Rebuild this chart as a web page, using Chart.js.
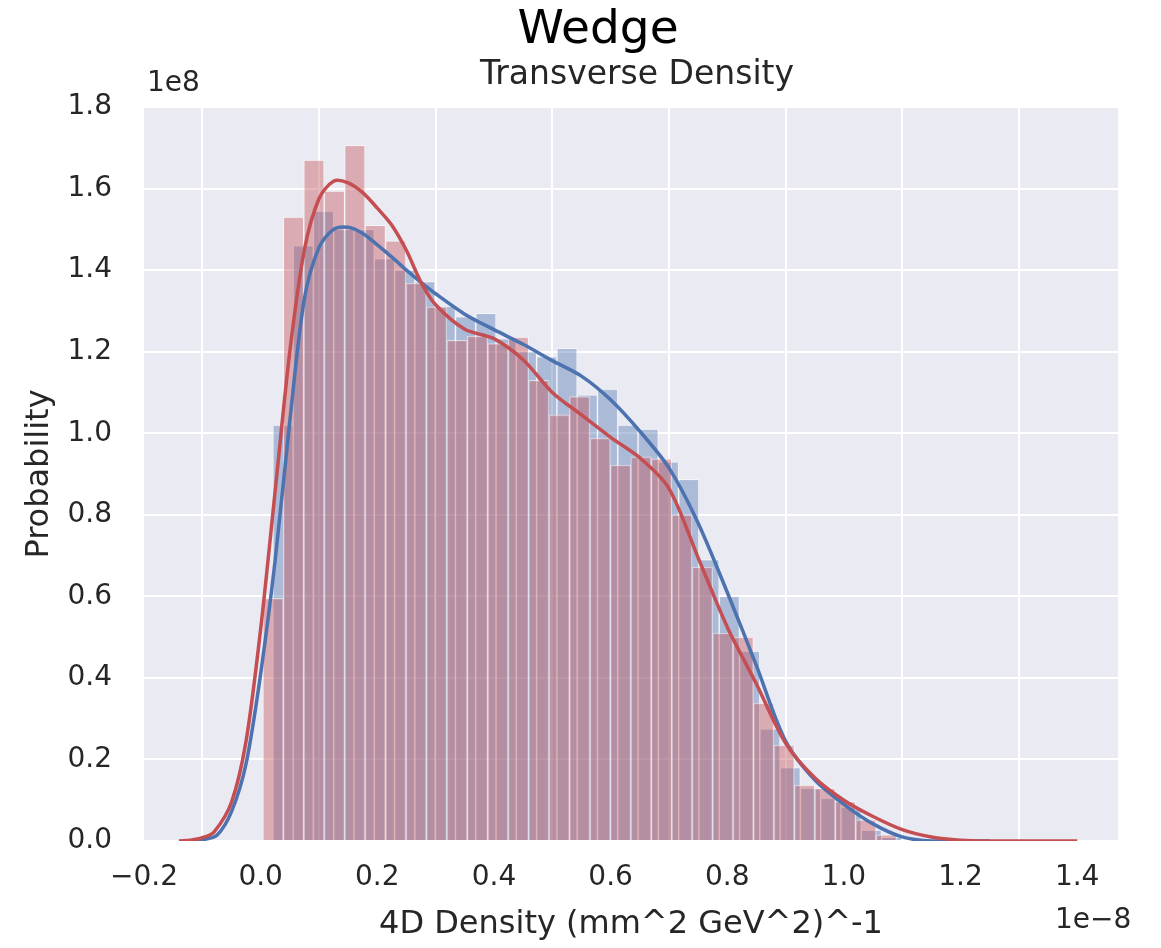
<!DOCTYPE html>
<html>
<head>
<meta charset="utf-8">
<title>Wedge - Transverse Density</title>
<script src="https://cdn.jsdelivr.net/npm/chart.js@4.4.1/dist/chart.umd.min.js"></script>
<style>
  body { margin: 0; background: #fff; }
  #wrap { width: 1161px; height: 948px; position: relative; }
</style>
</head>
<body>
<div id="wrap"><canvas id="densityChart"></canvas></div>
<script>
// histogram bins (x in units of 1e-8, heights in units of 1e8)
const blueBinStart = 0.0209, blueBinWidth = 0.03479;
const blueCounts = [1.02, 1.46, 1.545, 1.50, 1.50, 1.428, 1.40, 1.372, 1.312, 1.286,
  1.294, 1.232, 1.20, 1.188, 1.208, 1.094, 1.108, 1.02, 1.01, 0.93,
  0.887, 0.69, 0.60, 0.466, 0.275, 0.18, 0.13, 0.105, 0.083, 0.027, 0.009];

const redBinStart = 0.0038, redBinWidth = 0.03505;
const redCounts = [0.595, 1.53, 1.67, 1.594, 1.706, 1.51, 1.472, 1.368, 1.31, 1.228,
  1.238, 1.22, 1.236, 1.13, 1.045, 1.09, 0.988, 0.922, 0.942, 0.937,
  0.80, 0.672, 0.51, 0.50, 0.338, 0.235, 0.137, 0.129, 0.097, 0.052, 0.015];

// kde curves
const blueKdeX = [-0.125, -0.10, -0.075, -0.05, -0.025, 0, 0.025, 0.05, 0.075, 0.10, 0.125, 0.15, 0.175,
  0.20, 0.225, 0.25, 0.275, 0.30, 0.35, 0.40, 0.45, 0.50, 0.55, 0.60, 0.65, 0.70, 0.75,
  0.80, 0.85, 0.90, 0.95, 1.00, 1.05, 1.10, 1.15, 1.25];
const blueKdeY = [0, 0.003, 0.014, 0.072, 0.19, 0.41, 0.69, 1.03, 1.33, 1.455, 1.50, 1.505, 1.49,
  1.462, 1.432, 1.40, 1.37, 1.342, 1.292, 1.254, 1.218, 1.178, 1.14, 1.082, 1.005, 0.915, 0.78,
  0.61, 0.43, 0.245, 0.15, 0.09, 0.042, 0.01, 0, 0];

const redKdeX = [-0.14, -0.12, -0.10, -0.08, -0.05, -0.025, 0, 0.025, 0.05, 0.075, 0.10, 0.125, 0.15,
  0.175, 0.20, 0.225, 0.25, 0.275, 0.30, 0.35, 0.40, 0.45, 0.50, 0.55, 0.60, 0.65, 0.70,
  0.75, 0.80, 0.85, 0.90, 0.95, 1.00, 1.05, 1.10, 1.15, 1.20, 1.25, 1.40];
const redKdeY = [0, 0.002, 0.008, 0.022, 0.095, 0.245, 0.52, 0.86, 1.20, 1.45, 1.575, 1.618, 1.614,
  1.59, 1.552, 1.51, 1.448, 1.37, 1.315, 1.255, 1.232, 1.18, 1.10, 1.045, 0.99, 0.94, 0.865,
  0.695, 0.525, 0.385, 0.24, 0.155, 0.10, 0.06, 0.028, 0.01, 0.002, 0, 0];

const xTicksStep = 0.2, yTicksStep = 0.2;

const blue = '#4C72B0', red = '#C44E52';
const textColor = '#262626';

function toBars(start, width, counts) {
  return counts.map((c, i) => ({x: start + width * (i + 0.5), y: c}));
}
function toLine(xs, ys) {
  return xs.map((x, i) => ({x: x, y: ys[i]}));
}
function fmt(v) {
  if (Math.abs(v) < 1e-9) v = 0;
  return v.toFixed(1).replace('-', '\u2212');
}

const extraText = {
  id: 'extraText',
  beforeDraw(chart) {
    const {ctx, chartArea: a} = chart;
    ctx.save();
    ctx.fillStyle = '#EAEAF2';
    ctx.fillRect(a.left, a.top, a.right - a.left, a.bottom - a.top);
    ctx.restore();
  },
  afterDraw(chart) {
    const {ctx, chartArea: a} = chart;
    ctx.save();
    ctx.textBaseline = 'middle';
    ctx.fillStyle = '#000';
    ctx.textAlign = 'center';
    ctx.font = '47px "DejaVu Sans"';
    ctx.fillText('Wedge', 598, 31);
    ctx.fillStyle = textColor;
    ctx.font = '33px "DejaVu Sans"';
    ctx.fillText('Transverse Density', (a.left + a.right) / 2 + 6, 75);
    ctx.font = '28px "DejaVu Sans"';
    ctx.textAlign = 'left';
    ctx.fillText('1e8', a.left + 3, 84);
    ctx.fillText('1e\u22128', 1055, 921);
    ctx.restore();
  }
};

Chart.defaults.font.family = '"DejaVu Sans"';
Chart.defaults.color = textColor;

const ctx = document.getElementById('densityChart');

new Chart(ctx, {
  type: 'bar',
  data: {
    datasets: [
      {
        type: 'line',
        label: 'red kde',
        data: toLine(redKdeX, redKdeY),
        xAxisID: 'x',
        borderColor: red,
        borderWidth: 3.5,
        pointRadius: 0,
        tension: 0.3,
        fill: false,
        order: 0
      },
      {
        type: 'line',
        label: 'blue kde',
        data: toLine(blueKdeX, blueKdeY),
        xAxisID: 'x',
        borderColor: blue,
        borderWidth: 3.5,
        pointRadius: 0,
        tension: 0.3,
        fill: false,
        order: 1
      },
      {
        label: 'red hist',
        data: toBars(redBinStart, redBinWidth, redCounts),
        xAxisID: 'xr',
        backgroundColor: 'rgba(196, 78, 82, 0.4)',
        borderColor: 'rgba(255, 255, 255, 0.5)',
        borderWidth: 1,
        barPercentage: 1,
        categoryPercentage: 1,
        grouped: false,
        order: 2
      },
      {
        label: 'blue hist',
        data: toBars(blueBinStart, blueBinWidth, blueCounts),
        xAxisID: 'xb',
        backgroundColor: 'rgba(76, 114, 176, 0.4)',
        borderColor: 'rgba(255, 255, 255, 0.5)',
        borderWidth: 1,
        barPercentage: 1,
        categoryPercentage: 1,
        grouped: false,
        order: 3
      }
    ]
  },
  options: {
    responsive: true,
    maintainAspectRatio: false,
    animation: false,
    layout: { padding: { top: 107, right: 43, left: 0, bottom: 0 } },
    plugins: {
      legend: { display: false },
      tooltip: { enabled: false }
    },
    scales: {
      x: {
        type: 'linear',
        position: 'bottom',
        min: -0.2,
        max: 1.47,
        offset: false,
        afterFit(scale) { scale.height = 107; },
        grid: { color: '#ffffff', lineWidth: 2, drawTicks: false },
        border: { display: false },
        ticks: {
          stepSize: xTicksStep,
          includeBounds: false,
          padding: 20,
          font: { size: 28 },
          color: textColor,
          callback: v => fmt(v)
        },
        title: {
          display: true,
          text: '4D Density (mm^2 GeV^2)^-1',
          font: { size: 32 },
          color: textColor,
          padding: { top: 0, bottom: 4 }
        }
      },
      xr: { type: 'linear', display: false, min: -0.2, max: 1.47, offset: false },
      xb: { type: 'linear', display: false, min: -0.2, max: 1.47, offset: false },
      y: {
        type: 'linear',
        min: 0,
        max: 1.8,
        afterFit(scale) { scale.width = 144; },
        grid: { color: '#ffffff', lineWidth: 2, drawTicks: false },
        border: { display: false },
        ticks: {
          stepSize: yTicksStep,
          padding: 32,
          font: { size: 28 },
          color: textColor,
          callback: v => fmt(v)
        },
        title: {
          display: true,
          text: 'Probability',
          font: { size: 32 },
          color: textColor,
          padding: { top: 20, bottom: 0 }
        }
      }
    }
  },
  plugins: [extraText]
});
</script>
</body>
</html>
